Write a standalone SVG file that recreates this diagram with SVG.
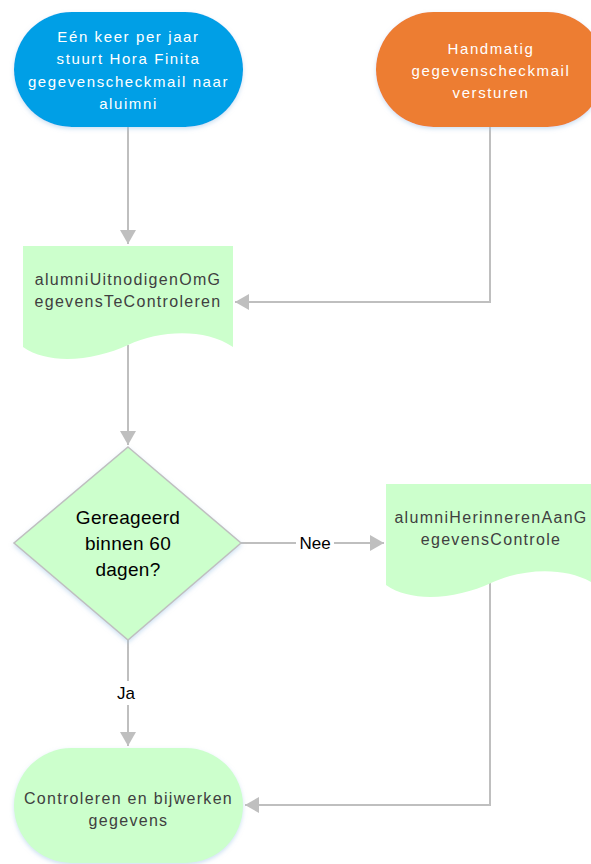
<svg xmlns="http://www.w3.org/2000/svg" width="591" height="864" viewBox="0 0 591 864">
<defs>
<filter id="sh" x="-10%" y="-10%" width="120%" height="130%">
<feDropShadow dx="0" dy="2" stdDeviation="2" flood-color="#9DC3E6" flood-opacity="0.5"/>
</filter>
<marker id="ar" viewBox="0 0 14 16" refX="14" refY="8" markerWidth="14" markerHeight="16" markerUnits="userSpaceOnUse" orient="auto">
<path d="M0,0 L14,8 L0,16 Z" fill="#BFBFBF"/>
</marker>
<style>
.ln{fill:none;stroke:#BFBFBF;stroke-width:2}
.lt{font-family:"Liberation Sans",Arial,sans-serif;font-size:15px;fill:#FFFFFF;text-anchor:middle;letter-spacing:1.6px}
.dt{font-family:"Liberation Sans",Arial,sans-serif;font-size:16px;fill:#404040;text-anchor:middle;letter-spacing:1.3px}
.bt{font-family:"Liberation Sans",Arial,sans-serif;font-size:19px;fill:#000000;text-anchor:middle;letter-spacing:0.3px}
.lb{font-family:"Liberation Sans",Arial,sans-serif;font-size:17px;fill:#000000;text-anchor:middle}
.grn{fill:#CCFFCC}
</style>
</defs>
<rect width="591" height="864" fill="#FFFFFF"/>
<g id="connectors">
<path class="ln" d="M128,127 V244" marker-end="url(#ar)"/>
<path class="ln" d="M490,127 V302 H235" marker-end="url(#ar)"/>
<path class="ln" d="M128,345 V445" marker-end="url(#ar)"/>
<path class="ln" d="M241,543 H384" marker-end="url(#ar)"/>
<path class="ln" d="M490,583 V805 H245" marker-end="url(#ar)"/>
<path class="ln" d="M128,640 V746" marker-end="url(#ar)"/>
<rect x="296" y="532" width="38" height="22" fill="#FFFFFF"/>
<text class="lb" x="315" y="549">Nee</text>
<rect x="114" y="681" width="28" height="24" fill="#FFFFFF"/>
<text class="lb" x="126" y="699">Ja</text>
</g>
<g id="start1">
<rect x="14" y="12" width="229" height="115" rx="57.5" fill="#049FE6" filter="url(#sh)"/>
<text class="lt" x="128.5" y="42">Eén keer per jaar</text>
<text class="lt" x="128.5" y="64">stuurt Hora Finita</text>
<text class="lt" x="128.5" y="87">gegevenscheckmail naar</text>
<text class="lt" x="128.5" y="109">aluimni</text>
</g>
<g id="start2">
<rect x="376" y="12" width="229" height="115" rx="57.5" fill="#ED7D31" filter="url(#sh)"/>
<text class="lt" x="491" y="54">Handmatig</text>
<text class="lt" x="491" y="76">gegevenscheckmail</text>
<text class="lt" x="491" y="98">versturen</text>
</g>
<g id="doc1">
<path class="grn" d="M23,246 H233 V347 C205,328 160,330 128,345 C96,360 50,366 23,347 Z"/>
<text class="dt" x="128" y="285">alumniUitnodigenOmG</text>
<text class="dt" x="128" y="307">egevensTeControleren</text>
</g>
<g id="decision">
<path d="M128,447 L241,543 L128,640 L14,543 Z" fill="#CCFFCC" stroke="#BFBFBF" stroke-width="1.5" filter="url(#sh)"/>
<text class="bt" x="128" y="524">Gereageerd</text>
<text class="bt" x="128" y="550">binnen 60</text>
<text class="bt" x="128" y="576">dagen?</text>
</g>
<g id="doc2">
<path class="grn" d="M386,484 H596 V585 C568,566 523,568 491,583 C459,598 413,604 386,585 Z"/>
<text class="dt" x="491" y="523">alumniHerinnerenAanG</text>
<text class="dt" x="491" y="545">egevensControle</text>
</g>
<g id="end">
<rect x="14" y="748" width="229" height="115" rx="57.5" fill="#CCFFCC" filter="url(#sh)"/>
<text class="dt" x="128.5" y="804">Controleren en bijwerken</text>
<text class="dt" x="128.5" y="826">gegevens</text>
</g>
</svg>
